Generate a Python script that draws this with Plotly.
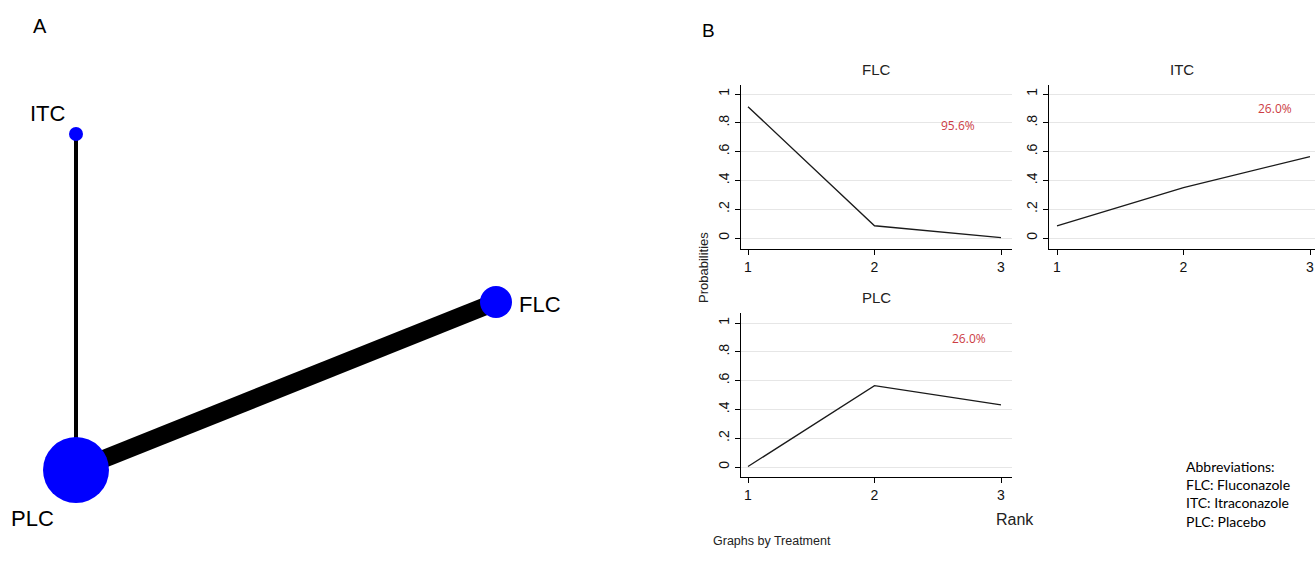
import plotly.graph_objects as go

# ---------------- data ----------------
# Panel A: network
node_names = ["ITC", "PLC", "FLC"]
node_x = [0.0, 0.0, 1.25]
node_y = [1.0, 0.0, 0.5]
node_size = [14, 66, 32]
edges = [("ITC", "PLC"), ("PLC", "FLC")]
edge_width = [4, 18]

# Panel B: rank probabilities
ranks = [1, 2, 3]
treatments = ["FLC", "ITC", "PLC"]
prob_flc = [0.912, 0.085, 0.003]
prob_itc = [0.085, 0.350, 0.565]
prob_plc = [0.003, 0.565, 0.432]
sucra = ["95.6%", "26.0%", "26.0%"]
ytick_vals = [0, 0.2, 0.4, 0.6, 0.8, 1]
ytick_text = ["0", ".2", ".4", ".6", ".8", "1"]
abbrev = ["Abbreviations:", "FLC: Fluconazole", "ITC: Itraconazole", "PLC: Placebo"]

# ---------------- styling / placement ----------------
sucra_pos = [(2.66, 0.78), (2.72, 0.90), (2.75, 0.89)]

W, H = 1315, 562
ARIAL = "Liberation Sans, Arial, sans-serif"
NARROW = "Liberation Sans Narrow, Liberation Sans, Arial, sans-serif"

fig = go.Figure()

# ---------- Panel A ----------
idx = {n: i for i, n in enumerate(node_names)}
for (a, b), w in zip(edges, edge_width):
    fig.add_trace(go.Scatter(
        x=[node_x[idx[a]], node_x[idx[b]]], y=[node_y[idx[a]], node_y[idx[b]]],
        mode="lines", line=dict(color="black", width=w),
        xaxis="x", yaxis="y", showlegend=False, hoverinfo="skip"))
fig.add_trace(go.Scatter(
    x=node_x, y=node_y, mode="markers",
    marker=dict(size=node_size, color="#0000ff", opacity=1, line=dict(width=0)),
    xaxis="x", yaxis="y", showlegend=False))

u = 336.0  # px per unit
label_pos = {"ITC": ("right", "bottom", -8 / u, 6 / u),
             "PLC": ("right", "top", -20 / u, -34 / u),
             "FLC": ("left", "middle", 21 / u, -2 / u)}
for n in node_names:
    xa, ya, dx, dy = label_pos[n]
    fig.add_annotation(x=node_x[idx[n]] + dx, y=node_y[idx[n]] + dy, xref="x", yref="y",
                       text=n, showarrow=False, xanchor=xa, yanchor=ya,
                       font=dict(family=ARIAL, size=22, color="black"))

fig.update_layout(
    xaxis=dict(domain=[0, 0.5], range=[-76 / u, (657.5 - 76) / u], visible=False),
    yaxis=dict(domain=[0, 1], range=[-92 / u, (562 - 92) / u], visible=False),
)

# ---------- Panel B ----------
def px_dom_x(l, r):
    return [l / W, r / W]

def px_dom_y(top, bottom):
    return [1 - bottom / H, 1 - top / H]

panels = [
    ("2", prob_flc, px_dom_x(741, 1012), px_dom_y(85, 249), [1 - 7 / 126.5, 3 + 11 / 126.5], [-11 / 144, 1 + 9 / 144]),
    ("3", prob_itc, px_dom_x(1049, 1315), px_dom_y(85, 249), [1 - 8 / 126.5, 3 + 5 / 126.5], [-11 / 144, 1 + 9 / 144]),
    ("4", prob_plc, px_dom_x(741, 1012), px_dom_y(313, 477), [1 - 7 / 126.5, 3 + 11 / 126.5], [-10 / 144, 1 + 10 / 144]),
]
layout_axes = {}
for k, (ax, vals, dx, dy, xr, yr) in enumerate(panels):
    fig.add_trace(go.Scatter(x=ranks, y=vals, mode="lines",
                             line=dict(color="#1a1a1a", width=1.3),
                             xaxis="x" + ax, yaxis="y" + ax, showlegend=False))
    layout_axes["xaxis" + ax] = dict(
        domain=dx, range=xr, anchor="y" + ax, tickvals=ranks, ticktext=[str(r) for r in ranks],
        showgrid=False, zeroline=False, showline=True, linecolor="black", linewidth=1,
        ticks="outside", ticklen=5, tickcolor="black",
        tickfont=dict(family=ARIAL, size=14, color="#111111"))
    layout_axes["yaxis" + ax] = dict(
        domain=dy, range=yr, anchor="x" + ax, tickvals=ytick_vals, ticktext=ytick_text,
        tickangle=-90, showgrid=True, gridcolor="#e6e6e6", gridwidth=1, zeroline=False,
        showline=True, linecolor="black", linewidth=1,
        ticks="outside", ticklen=5, tickcolor="black",
        tickfont=dict(family=ARIAL, size=14, color="#111111"))
    fig.add_annotation(x=0.5, y=1.0, xref="x" + ax + " domain", yref="y" + ax + " domain",
                       text=treatments[k], showarrow=False, xanchor="center", yanchor="bottom", yshift=5,
                       font=dict(family=NARROW, size=15, color="#222222"))
    sx, sy = sucra_pos[k]
    fig.add_annotation(x=sx, y=sy, xref="x" + ax, yref="y" + ax,
                       text=sucra[k], showarrow=False, xanchor="center", yanchor="middle",
                       font=dict(family="Open Sans, sans-serif", size=12, color="#cc3c44"))
fig.update_layout(**layout_axes)

# Panel labels and misc text (centres given in pixels)
def paper_text(px, py, text, size, family=ARIAL, angle=0, color="black", xanchor="center"):
    fig.add_annotation(x=px / W, y=1 - py / H, xref="paper", yref="paper", text=text,
                       textangle=angle, showarrow=False, xanchor=xanchor, yanchor="middle",
                       font=dict(family=family, size=size, color=color))

paper_text(40, 26, "A", 20)
paper_text(708, 30, "B", 19)
paper_text(703, 268, "Probabilities", 13, angle=-90, color="#222222")
paper_text(1015, 519, "Rank", 16, color="#222222")
paper_text(711, 541, "Graphs by Treatment", 12.5, family=NARROW, color="#222222", xanchor="left")
fig.add_annotation(x=1184 / W, y=1 - 456 / H, xref="paper", yref="paper",
                   text="<br>".join(abbrev), align="left", xanchor="left", yanchor="top",
                   showarrow=False, font=dict(family="Lato, sans-serif", size=14, color="black"))

fig.update_layout(width=W, height=H, margin=dict(l=0, r=0, t=0, b=0),
                  paper_bgcolor="white", plot_bgcolor="white")
fig.write_html("out.html", config={"displayModeBar": False},
               post_script="document.body.style.margin='0px';document.body.style.padding='0px';")
